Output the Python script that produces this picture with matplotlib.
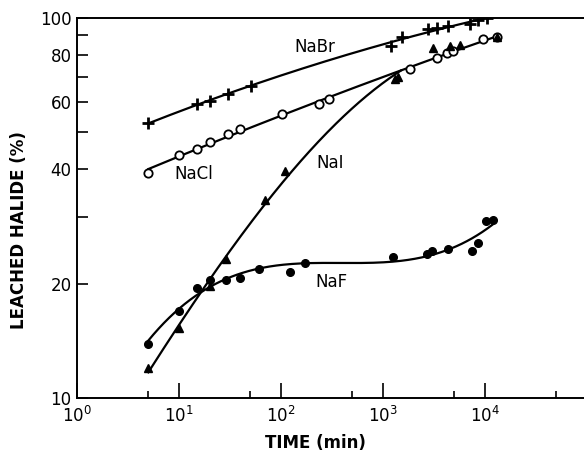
import numpy as np
import matplotlib.pyplot as plt
from matplotlib.ticker import FixedLocator, NullFormatter

# values (time in min, leached halide in %)
nabr_t = [5, 15, 20, 30, 51, 1190, 1520, 2780, 3360, 4370, 7130, 8600, 10400]
nabr_v = [53.0, 59.3, 60.5, 63.0, 66.2, 84.5, 89.0, 93.5, 94.0, 95.0, 96.3, 98.5, 100.0]

nacl_t = [5, 10, 15, 20, 30, 40, 102, 238, 298, 1840, 3360, 4200, 4900, 9550, 13000]
nacl_v = [39.0, 43.6, 45.3, 47.2, 49.4, 50.9, 55.8, 59.3, 61.1, 73.3, 78.7, 81.1, 81.7, 88.0, 89.0]

nai_t = [5, 10, 20, 29, 70, 109, 1310, 1400, 3110, 4540, 5690, 13000]
nai_v = [12.0, 15.3, 19.7, 23.2, 33.2, 39.5, 69.0, 70.0, 83.6, 84.5, 85.0, 89.0]

naf_t = [5, 10, 15, 20, 29, 40, 61, 122, 172, 1245, 2680, 3000, 4370, 7400, 8600, 10200, 11900]
naf_v = [13.9, 16.9, 19.5, 20.5, 20.5, 20.7, 21.8, 21.5, 22.7, 23.5, 24.0, 24.3, 24.7, 24.4, 25.6, 29.2, 29.4]


def smooth_curve(t, v, deg, t_end=None):
    # least squares curve in log-log space, like the hand-drawn fits
    lt, lv = np.log10(t), np.log10(v)
    coef = np.polyfit(lt, lv, deg)
    hi = np.log10(t_end) if t_end else lt.max()
    xs = np.linspace(lt.min(), hi, 200)
    return 10 ** xs, 10 ** np.polyval(coef, xs)


fig = plt.figure(figsize=(5.84, 4.58), dpi=100)
ax = fig.add_axes([77 / 584, 60 / 458, 507 / 584, 380 / 458])

lw = 1.6
# NaBr
x, y = smooth_curve(nabr_t, nabr_v, 2)
ax.plot(x, y, color='black', lw=lw)
ax.plot(nabr_t, nabr_v, linestyle='none', marker='+', ms=8, mew=2, color='black')
# NaCl
x, y = smooth_curve(nacl_t, nacl_v, 2)
ax.plot(x, y, color='black', lw=lw)
ax.plot(nacl_t, nacl_v, linestyle='none', marker='o', ms=6, mew=1.3,
        mfc='white', mec='black')
# NaI, drawn until it runs into the NaCl line
x, y = smooth_curve(nai_t, nai_v, 3, t_end=1500)
ax.plot(x, y, color='black', lw=lw)
ax.plot(nai_t, nai_v, linestyle='none', marker='^', ms=6, color='black')
# NaF
x, y = smooth_curve(naf_t, naf_v, 3)
ax.plot(x, y, color='black', lw=lw)
ax.plot(naf_t, naf_v, linestyle='none', marker='o', ms=5.5, color='black')

ax.set_xscale('log')
ax.set_yscale('log')
ax.set_xlim(1, 10 ** (507 / 102))
ax.set_ylim(10, 100)

ax.xaxis.set_major_locator(FixedLocator([1, 10, 100, 1000, 10000]))
ax.xaxis.set_minor_locator(FixedLocator([5, 50, 500, 5000, 50000]))
ax.set_xticklabels([r'$\mathregular{10^{0}}$', r'$\mathregular{10^{1}}$',
                    r'$\mathregular{10^{2}}$', r'$\mathregular{10^{3}}$',
                    r'$\mathregular{10^{4}}$'])
ax.xaxis.set_minor_formatter(NullFormatter())
ax.yaxis.set_major_locator(FixedLocator([10, 20, 40, 60, 80, 100]))
ax.yaxis.set_minor_locator(FixedLocator([30, 50, 70, 90]))
ax.set_yticklabels(['10', '20', '40', '60', '80', '100'])
ax.yaxis.set_minor_formatter(NullFormatter())

ax.tick_params(which='both', direction='in', labelsize=12, width=1.2)
ax.tick_params(axis='x', which='major', length=11, pad=6)
ax.tick_params(axis='x', which='minor', length=5)
ax.tick_params(axis='y', which='both', length=8, pad=4)

for side in ['left', 'bottom', 'top']:
    ax.spines[side].set_linewidth(1.4)
ax.spines['right'].set_visible(False)

lab = dict(fontsize=12, color='black')
ax.text(10 ** ((315 - 77) / 102), 10 ** (1 + (398 - 48) / 379), 'NaBr', ha='center', va='center', **lab)
ax.text(10 ** ((194 - 77) / 102), 10 ** (1 + (398 - 175) / 379), 'NaCl', ha='center', va='center', **lab)
ax.text(10 ** ((330 - 77) / 102), 10 ** (1 + (398 - 164) / 379), 'NaI', ha='center', va='center', **lab)
ax.text(10 ** ((331 - 77) / 102), 10 ** (1 + (398 - 282) / 379), 'NaF', ha='center', va='center', **lab)

fig.text(315 / 584, 1 - 443 / 458, 'TIME (min)', ha='center', va='center',
         fontsize=12, fontweight='bold')
fig.text(19 / 584, 1 - 230 / 458, 'LEACHED HALIDE (%)', ha='center', va='center',
         rotation=90, fontsize=12, fontweight='bold')

fig.savefig('out.png', dpi=100)
